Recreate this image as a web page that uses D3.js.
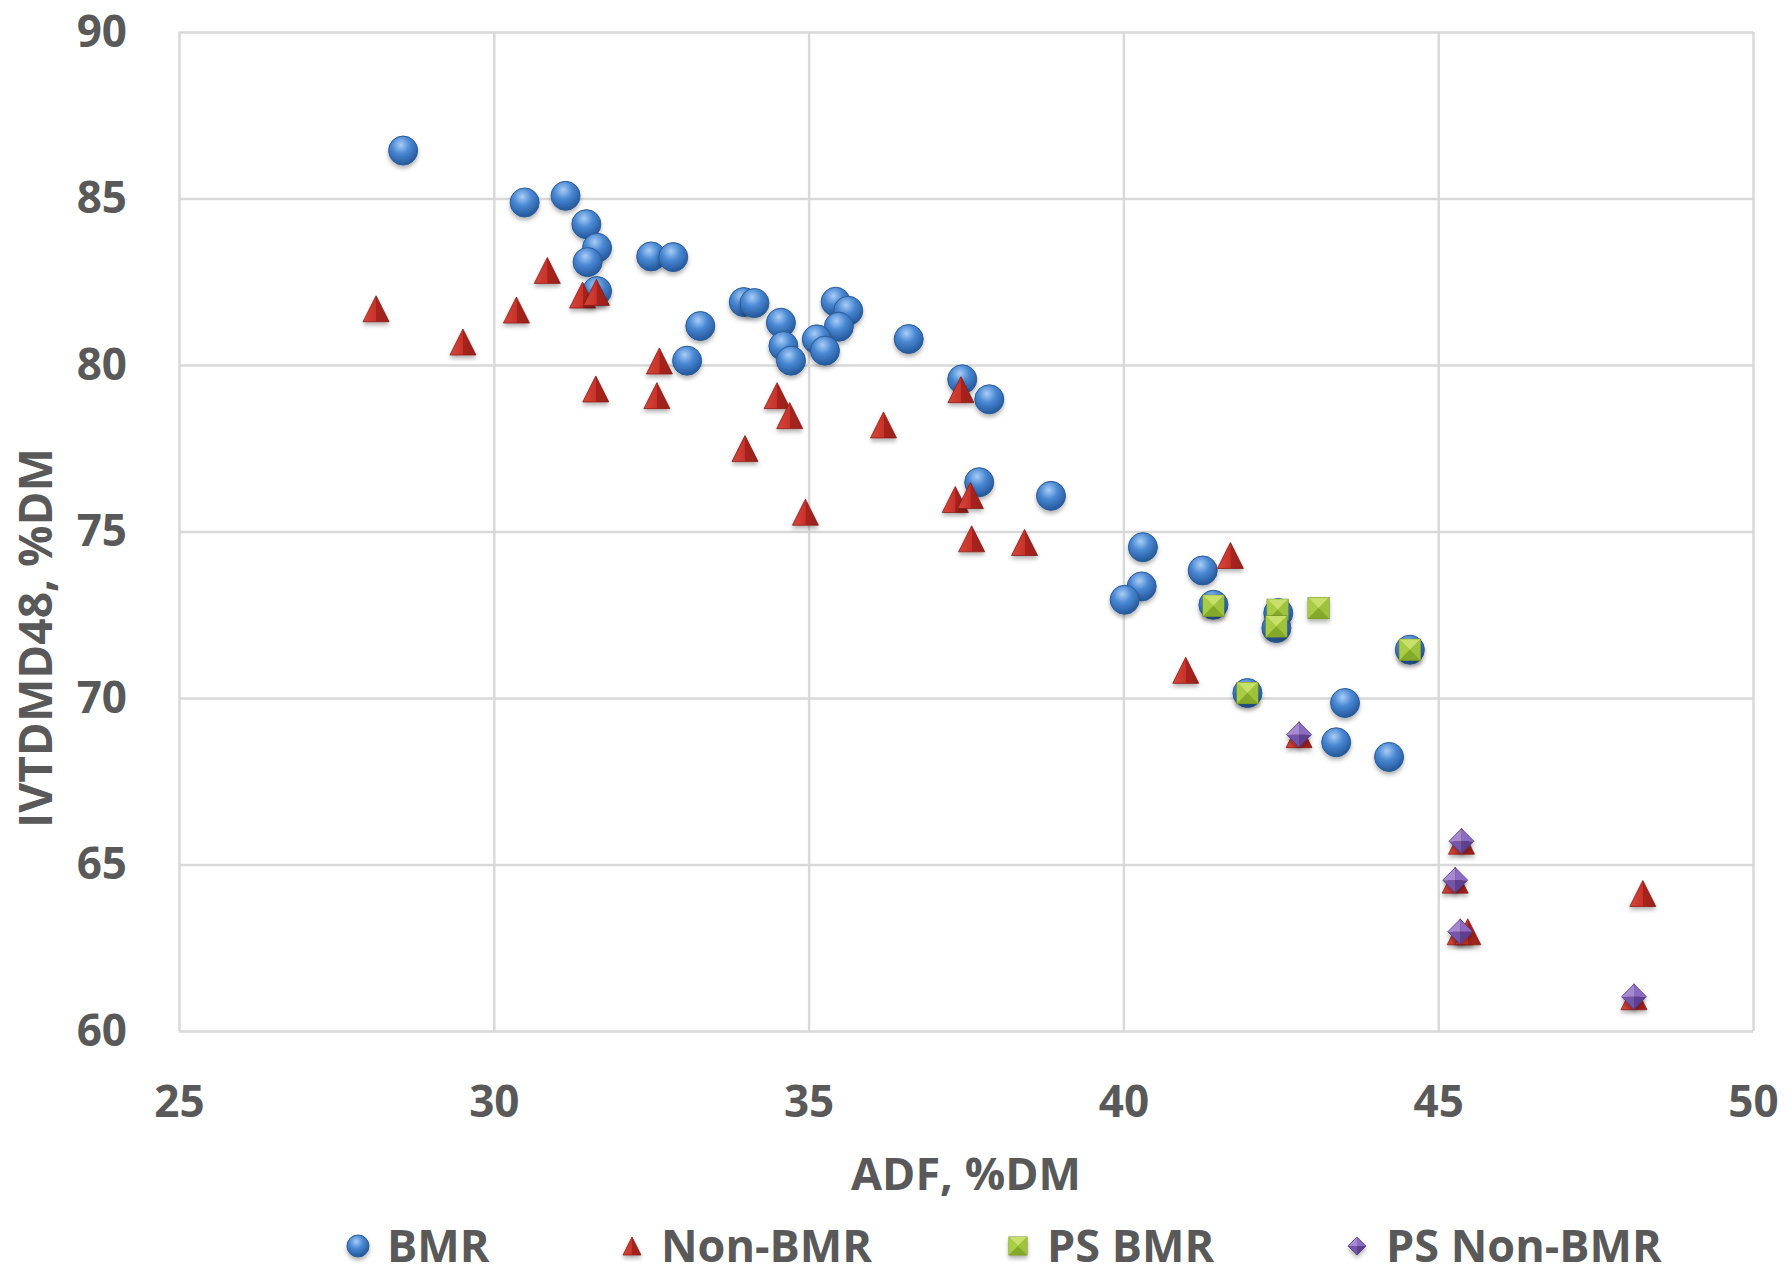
<!DOCTYPE html>
<html>
<head>
<meta charset="utf-8">
<script src="https://cdn.jsdelivr.net/npm/d3@7/dist/d3.min.js"></script>
<style>
  body { margin: 0; background: #fff; }
  svg text { font-family: "Open Sans", "DejaVu Sans", sans-serif; font-weight: bold; fill: #595959; }
</style>
</head>
<body>
<svg id="chart"></svg>
<script>
// ADF (x) and IVTDMD48 (y)
var bmrX = [28.56, 30.49, 31.14, 31.47, 31.64, 31.49, 31.64, 32.50, 32.85, 33.97, 34.14, 33.28, 33.07,
            34.56, 34.60, 34.72, 35.43, 35.63, 35.48, 35.13, 35.26, 36.59, 37.44, 37.87, 37.71, 38.85,
            40.31, 40.29, 40.02, 41.26, 41.43, 42.46, 42.43, 44.55, 41.97, 43.52, 43.38, 44.22];
var bmrY = [86.44, 84.88, 85.08, 84.23, 83.52, 83.09, 82.22, 83.26, 83.24, 81.89, 81.86, 81.17, 80.13,
            81.27, 80.57, 80.13, 81.90, 81.63, 81.15, 80.77, 80.43, 80.78, 79.57, 78.97, 76.48, 76.07,
            74.53, 73.35, 72.95, 73.83, 72.80, 72.55, 72.10, 71.45, 70.15, 69.85, 68.67, 68.23];

var nonBmrX = [28.13, 29.51, 30.36, 30.85, 31.41, 31.63, 32.63, 31.62, 32.59, 34.50, 34.70, 33.99, 37.42, 36.19,
               34.95, 37.33, 37.57, 37.59, 38.43, 41.70, 40.99, 42.79, 45.37, 45.27, 45.35, 45.47, 48.25, 48.11];
var nonBmrY = [81.69, 80.69, 81.65, 82.84, 82.10, 82.18, 80.12, 79.28, 79.08, 79.08, 78.48, 77.49, 79.26, 78.20,
               75.58, 75.96, 76.08, 74.78, 74.67, 74.28, 70.83, 68.90, 65.70, 64.53, 62.98, 62.98, 64.13, 61.03];

var psBmrX = [41.43, 42.45, 42.43, 43.10, 44.55, 41.97];
var psBmrY = [72.77, 72.65, 72.15, 72.70, 71.45, 70.15];

var psNonBmrX = [42.79, 45.37, 45.27, 45.35, 48.11];
var psNonBmrY = [68.90, 65.70, 64.53, 62.98, 61.03];

var seriesNames = ["BMR", "Non-BMR", "PS BMR", "PS Non-BMR"];
var xTicks = [25, 30, 35, 40, 45, 50];
var yTicks = [60, 65, 70, 75, 80, 85, 90];
var xTitle = "ADF, %DM";
var yTitle = "IVTDMD48, %DM";

var W = 1787, H = 1275;
var margin = {top: 32, right: 34, bottom: 244, left: 179},
    width = W - margin.left - margin.right,
    height = H - margin.top - margin.bottom;

function zip(xs, ys) {
  return xs.map(function(d, i) { return {x: d, y: ys[i]}; });
}

var svg = d3.select("#chart").attr("width", W).attr("height", H);
var defs = svg.append("defs");

// 3d look of the markers
var ball = defs.append("radialGradient").attr("id", "ball")
    .attr("cx", "42%").attr("cy", "30%").attr("r", "70%");
ball.append("stop").attr("offset", "0%").attr("stop-color", "#a9cdf5");
ball.append("stop").attr("offset", "45%").attr("stop-color", "#4a88d4");
ball.append("stop").attr("offset", "100%").attr("stop-color", "#23579a");

var tri = defs.append("linearGradient").attr("id", "tri")
    .attr("x1", "0%").attr("y1", "0%").attr("x2", "100%").attr("y2", "0%");
tri.append("stop").attr("offset", "0%").attr("stop-color", "#d4473b");
tri.append("stop").attr("offset", "50%").attr("stop-color", "#c8322a");
tri.append("stop").attr("offset", "51%").attr("stop-color", "#a8231e");
tri.append("stop").attr("offset", "100%").attr("stop-color", "#9a1f1a");

var shadow = defs.append("filter").attr("id", "shadow")
    .attr("x", "-50%").attr("y", "-50%").attr("width", "200%").attr("height", "200%");
shadow.append("feDropShadow").attr("dx", 0).attr("dy", 3).attr("stdDeviation", 2)
    .attr("flood-color", "#000").attr("flood-opacity", 0.3);

var x = d3.scaleLinear().domain([25, 50]).range([0, width]);
var y = d3.scaleLinear().domain([60, 90]).range([height, 0]);

var chart = svg.append("g")
    .attr("transform", "translate(" + margin.left + "," + margin.top + ")");

// grid + tick labels
var xAxis = d3.axisBottom(x).tickValues(xTicks).tickSize(-height).tickPadding(55).tickFormat(d3.format("d"));
var yAxis = d3.axisLeft(y).tickValues(yTicks).tickSize(-width).tickPadding(52).tickFormat(d3.format("d"));

chart.append("g").attr("class", "x axis")
    .attr("transform", "translate(0," + height + ")")
    .call(xAxis);
chart.append("g").attr("class", "y axis")
    .call(yAxis);

chart.selectAll(".axis .domain").remove();
chart.selectAll(".axis line").attr("stroke", "#d9d9d9").attr("stroke-width", 2.5);
chart.selectAll(".axis text").attr("font-size", 44).style("fill", "#595959");
chart.selectAll(".x.axis text").attr("dy", "0.71em");

// axis titles
svg.append("text")
    .attr("x", margin.left + width / 2).attr("y", 1190)
    .attr("text-anchor", "middle").attr("font-size", 45)
    .text(xTitle);
svg.append("text")
    .attr("transform", "translate(52,638) rotate(-90)")
    .attr("text-anchor", "middle").attr("font-size", 46)
    .text(yTitle);

// marker shapes
function drawBall(g, s) {
  g.append("circle").attr("r", s / 2).attr("fill", "url(#ball)")
    .attr("stroke", "#2a5c96").attr("stroke-width", 1);
}
function drawTri(g, s) {
  var h = s / 2;
  g.append("path").attr("d", "M0," + (-h) + "L" + h + "," + h + "L" + (-h) + "," + h + "Z")
    .attr("fill", "url(#tri)").attr("stroke", "#8a1c17").attr("stroke-width", 0.8);
}
function drawSquare(g, s) {
  var h = s / 2;
  g.append("rect").attr("x", -h).attr("y", -h).attr("width", s).attr("height", s)
    .attr("fill", "#94bb35").attr("stroke", "#6f8f24").attr("stroke-width", 1);
  g.append("path").attr("d", "M" + (-h) + "," + (-h) + "L" + h + "," + (-h) + "L0,0Z").attr("fill", "#c6e06a");
  g.append("path").attr("d", "M" + (-h) + "," + (-h) + "L0,0L" + (-h) + "," + h + "Z").attr("fill", "#a9cc45");
  g.append("path").attr("d", "M" + h + "," + (-h) + "L0,0L" + h + "," + h + "Z").attr("fill", "#9fc23e");
  g.append("path").attr("d", "M" + (-h) + "," + h + "L0,0L" + h + "," + h + "Z").attr("fill", "#84a92c");
}
function drawDiamond(g, s) {
  var h = s / 2;
  g.append("path").attr("d", "M0," + (-h) + "L0,0L" + (-h) + ",0Z").attr("fill", "#a58ad2");
  g.append("path").attr("d", "M0," + (-h) + "L" + h + ",0L0,0Z").attr("fill", "#8b6cc2");
  g.append("path").attr("d", "M" + (-h) + ",0L0,0L0," + h + "Z").attr("fill", "#7354aa");
  g.append("path").attr("d", "M0,0L" + h + ",0L0," + h + "Z").attr("fill", "#5d4192");
  g.append("path").attr("d", "M0," + (-h) + "L" + h + ",0L0," + h + "L" + (-h) + ",0Z")
    .attr("fill", "none").attr("stroke", "#503884").attr("stroke-width", 0.8);
}

var series = [
  {data: zip(bmrX, bmrY), draw: drawBall, size: 29},
  {data: zip(nonBmrX, nonBmrY), draw: drawTri, size: 26},
  {data: zip(psBmrX, psBmrY), draw: drawSquare, size: 21},
  {data: zip(psNonBmrX, psNonBmrY), draw: drawDiamond, size: 25}
];

series.forEach(function(s, i) {
  chart.append("g").attr("class", "series-" + i)
    .selectAll("g")
    .data(s.data)
  .enter().append("g")
    .attr("filter", "url(#shadow)")
    .attr("transform", function(d) { return "translate(" + x(d.x) + "," + y(d.y) + ")"; })
    .each(function() { s.draw(d3.select(this), s.size); });
});

// legend (kept just inside the bottom edge)
var legendX = [358, 632, 1018, 1357];
var legend = svg.append("g").attr("class", "legend");
seriesNames.forEach(function(name, i) {
  var item = legend.append("g").attr("transform", "translate(" + legendX[i] + ",1246)");
  series[i].draw(item.append("g").attr("filter", "url(#shadow)"), i == 0 ? 22 : 18);
  item.append("text").attr("x", 29).attr("y", 16).attr("font-size", 45).text(name);
});
</script>
</body>
</html>
